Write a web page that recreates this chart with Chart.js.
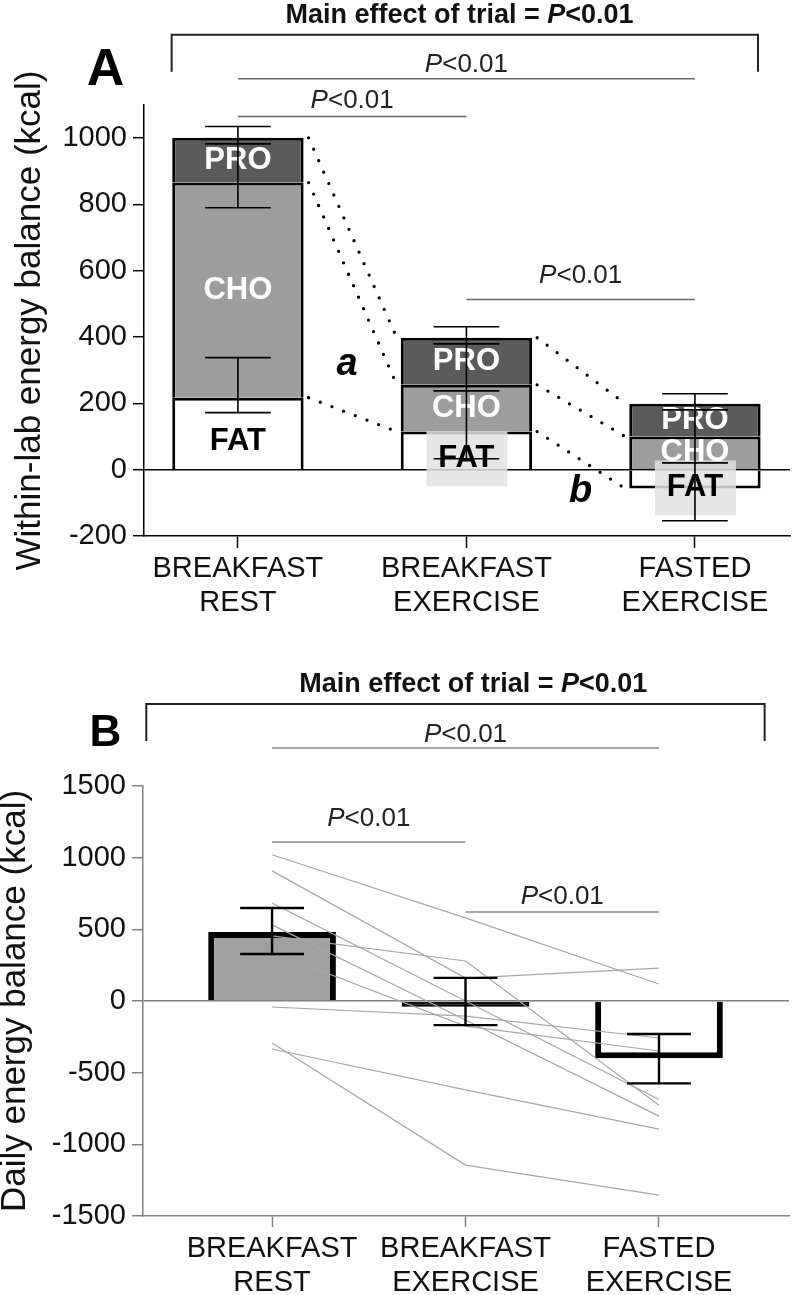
<!DOCTYPE html>
<html>
<head>
<meta charset="utf-8">
<title>Within-lab and daily energy balance</title>
<script src="https://cdn.jsdelivr.net/npm/chart.js@4.4.1/dist/chart.umd.min.js"></script>
<style>
  html, body { margin: 0; padding: 0; background: #fff; }
  #wrap { position: relative; width: 794px; height: 1295px; }
  canvas { position: absolute; left: 0; }
  #chartA { top: 0; }
  #chartB { top: 640px; }
</style>
</head>
<body>
<div id="wrap">
  <canvas id="chartA" width="794" height="640"></canvas>
  <canvas id="chartB" width="794" height="655"></canvas>
</div>
<script>
var FONT = '"Liberation Sans", Arial, Helvetica, sans-serif';
Chart.defaults.font.family = FONT;
Chart.defaults.color = '#111';

var trials = [['BREAKFAST', 'REST'], ['BREAKFAST', 'EXERCISE'], ['FASTED', 'EXERCISE']];

// panel A - within-lab energy balance by macronutrient (kcal)
var fatKcal = [217, 115, -57];
var choKcal = [649, 141, 100];
var proKcal = [135, 142, 99];
// whiskers as [low, high] on the cumulative stack
var proErr = [[983, 1035], [380, 431], [181, 229]];
var choErr = [[790, 983], [238, 380], [21, 181]];
var fatErr = [[172, 338], [33, 238], [-154, 21]];
var ticksA = [-200, 0, 200, 400, 600, 800, 1000];

// panel B - daily energy balance (kcal)
var dailyMean = [482, -40, -400];
var dailyErr = [[328, 649], [-168, 161], [-575, -230]];
var participants = [
  [1020, 580, 119],
  [908, 160, 230],
  [684, 0, -687],
  [531, -133, -803],
  [454, 279, -728],
  [340, -175, -349],
  [-42, -105, -258],
  [-293, -1145, -1355],
  [-335, -620, -894]
];
var ticksB = [-1500, -1000, -500, 0, 500, 1000, 1500];

// pairwise comparisons: trial indexes, line value, text baseline value
var compA = [
  {from: 0, to: 2, y: 1179, ty: 1200},
  {from: 0, to: 1, y: 1065, ty: 1092},
  {from: 1, to: 2, y: 513, ty: 564}
];
var compB = [
  {from: 0, to: 2, y: 1765, ty: 1807},
  {from: 0, to: 1, y: 1109, ty: 1221},
  {from: 1, to: 2, y: 621, ty: 677}
];

function pts(vals) {
  return vals.map(function(v, i) { return {x: i, y: v}; });
}

function fontOf(p, size) {
  return (p.i ? 'italic ' : '') + (p.b ? 'bold ' : '') + size + 'px ' + FONT;
}

function richText(ctx, parts, cx, y, size) {
  var widths = parts.map(function(p) {
    ctx.font = fontOf(p, size);
    return ctx.measureText(p.t).width;
  });
  var total = widths.reduce(function(a, b) { return a + b; }, 0);
  var x = cx - total / 2;
  ctx.textAlign = 'left';
  ctx.textBaseline = 'alphabetic';
  parts.forEach(function(p, i) {
    ctx.font = fontOf(p, size);
    ctx.fillText(p.t, x, y);
    x += widths[i];
  });
}

function drawErrors(chart, list, lw) {
  var ctx = chart.ctx, xs = chart.scales.x, ys = chart.scales.y;
  var bars = chart.getDatasetMeta(0).data;
  ctx.save();
  ctx.strokeStyle = '#000';
  ctx.lineWidth = lw;
  list.forEach(function(e, i) {
    var x = xs.getPixelForValue(i);
    var cap = bars[i].width / 4;
    var lo = ys.getPixelForValue(e[0]), hi = ys.getPixelForValue(e[1]);
    ctx.beginPath();
    ctx.moveTo(x, lo); ctx.lineTo(x, hi);
    ctx.moveTo(x - cap, lo); ctx.lineTo(x + cap, lo);
    ctx.moveTo(x - cap, hi); ctx.lineTo(x + cap, hi);
    ctx.stroke();
  });
  ctx.restore();
}

// titles, brackets, P values, panel letters
var annotate = {
  id: 'annotate',
  afterDraw: function(chart, args, opts) {
    var ctx = chart.ctx, xs = chart.scales.x, ys = chart.scales.y;
    var px = function(v) { return xs.getPixelForValue(v); };
    var py = function(v) { return ys.getPixelForValue(v); };
    ctx.save();
    ctx.fillStyle = '#111';

    var t = opts.title;
    richText(ctx, [{t: 'Main effect of trial = ', b: true}, {t: 'P', b: true, i: true}, {t: '<0.01', b: true}],
      px(t.x), py(t.y), 27);

    var b = opts.bracket;
    ctx.strokeStyle = '#222';
    ctx.lineWidth = 2;
    ctx.beginPath();
    ctx.moveTo(px(b.x0), py(b.leg));
    ctx.lineTo(px(b.x0), py(b.top));
    ctx.lineTo(px(b.x1), py(b.top));
    ctx.lineTo(px(b.x1), py(b.leg));
    ctx.stroke();

    ctx.strokeStyle = opts.compColor;
    ctx.lineWidth = 1.5;
    opts.comps.forEach(function(c) {
      var x0 = px(c.from), x1 = px(c.to);
      ctx.beginPath();
      ctx.moveTo(x0, py(c.y));
      ctx.lineTo(x1, py(c.y));
      ctx.stroke();
      ctx.fillStyle = '#222';
      richText(ctx, [{t: 'P', i: true}, {t: '<0.01'}], (x0 + x1) / 2, py(c.ty), 26);
    });

    var L = opts.letter;
    ctx.fillStyle = '#000';
    ctx.font = 'bold ' + L.size + 'px ' + FONT;
    ctx.textAlign = 'center';
    ctx.textBaseline = 'alphabetic';
    ctx.fillText(L.t, px(L.x), py(L.y));

    (opts.marks || []).forEach(function(m) {
      ctx.font = 'italic bold 38px ' + FONT;
      ctx.fillText(m.t, px(m.x), py(m.y));
    });
    ctx.restore();
  }
};

// segment names, dotted links between stacks and whiskers for panel A
var stackExtras = {
  id: 'stackExtras',
  afterDatasetsDraw: function(chart) {
    var ctx = chart.ctx;
    ctx.save();
    ctx.strokeStyle = '#000';
    ctx.lineWidth = 3.3;
    ctx.lineCap = 'round';
    ctx.setLineDash([0, 12.5]);
    chart.data.datasets.forEach(function(ds, d) {
      var bars = chart.getDatasetMeta(d).data;
      for (var i = 0; i < bars.length - 1; i++) {
        var a = bars[i], n = bars[i + 1];
        ctx.beginPath();
        ctx.moveTo(a.x + a.width / 2 + 5, a.y);
        ctx.lineTo(n.x - n.width / 2 - 4, n.y);
        ctx.stroke();
      }
    });
    ctx.setLineDash([]);

    ctx.font = 'bold 31px ' + FONT;
    ctx.textAlign = 'center';
    ctx.textBaseline = 'middle';
    chart.data.datasets.forEach(function(ds, d) {
      var isFat = ds.label === 'FAT';
      chart.getDatasetMeta(d).data.forEach(function(bar) {
        var h = Math.abs(bar.base - bar.y);
        var cy = (bar.base + bar.y) / 2 + (isFat ? 8 : 0);
        if (isFat && h < 50) {
          ctx.fillStyle = 'rgba(226,226,226,0.85)';
          ctx.fillRect(bar.x - 40, cy - 27, 81, 55);
        }
        ctx.fillStyle = isFat ? '#000' : '#fff';
        ctx.fillText(ds.label, bar.x, cy);
      });
    });
    ctx.restore();

    drawErrors(chart, proErr, 1.6);
    drawErrors(chart, choErr, 1.6);
    drawErrors(chart, fatErr, 1.6);
  }
};

var dailyExtras = {
  id: 'dailyExtras',
  afterDatasetsDraw: function(chart) {
    drawErrors(chart, dailyErr, 2.4);
  }
};

function xScale(min, max, color, tickLen, pad, height) {
  return {
    type: 'linear', min: min, max: max, offset: false,
    afterBuildTicks: function(s) { s.ticks = trials.map(function(t, i) { return {value: i}; }); },
    afterFit: function(s) { s.height = height; },
    ticks: {
      autoSkip: false, padding: pad, color: '#111',
      font: {size: 29, lineHeight: 1.17},
      callback: function(v) { return trials[v]; }
    },
    grid: {offset: false, drawOnChartArea: false, tickLength: tickLen, tickColor: color, tickWidth: 1.5},
    border: {color: color, width: 1.5}
  };
}

function yScale(min, max, ticks, color, width, title, titleLine, titlePad) {
  return {
    type: 'linear', min: min, max: max,
    afterBuildTicks: function(s) { s.ticks = ticks.map(function(v) { return {value: v}; }); },
    afterFit: function(s) { s.width = width; },
    ticks: {padding: 6, color: '#111', font: {size: 29}, callback: function(v) { return String(v); }},
    grid: {
      tickLength: 11, tickColor: color, tickWidth: 1.5, lineWidth: 1.4,
      color: function(c) { return c.tick && c.tick.value === 0 ? color : 'rgba(0,0,0,0)'; }
    },
    border: {color: color, width: 1.5},
    title: {
      display: true, text: title, color: '#111',
      font: {size: 35, lineHeight: titleLine}, padding: {top: titlePad, bottom: 0}
    }
  };
}

new Chart(document.getElementById('chartA'), {
  type: 'bar',
  data: {
    datasets: [
      {label: 'FAT', data: pts(fatKcal), backgroundColor: '#ffffff'},
      {label: 'CHO', data: pts(choKcal), backgroundColor: '#9d9d9d'},
      {label: 'PRO', data: pts(proKcal), backgroundColor: '#5b5b5b'}
    ]
  },
  options: {
    responsive: false,
    animation: false,
    devicePixelRatio: 1,
    layout: {padding: {top: 105, right: 4, left: 0, bottom: 0}},
    datasets: {bar: {borderColor: '#000', borderWidth: 3, barPercentage: 0.575, categoryPercentage: 1}},
    scales: {
      x: Object.assign(xScale(-0.411, 2.416, '#000', 12, 4, 104), {stacked: true}),
      y: Object.assign(yScale(-200, 1100, ticksA, '#000', 144, 'Within-lab energy balance (kcal)', 1.2, 9), {stacked: true})
    },
    plugins: {
      legend: {display: false},
      tooltip: {enabled: false},
      annotate: {
        title: {x: 0.97, y: 1348},
        bracket: {x0: -0.29, x1: 2.276, top: 1312, leg: 1200},
        compColor: '#666',
        comps: compA,
        letter: {t: 'A', x: -0.579, y: 1161, size: 52},
        marks: [{t: 'a', x: 0.478, y: 287}, {t: 'b', x: 1.5, y: -97}]
      }
    }
  },
  plugins: [stackExtras, annotate]
});

var lineSets = participants.map(function(p) {
  return {
    type: 'line', data: pts(p), borderColor: '#a6a6a6', borderWidth: 1.2,
    pointRadius: 0, tension: 0, fill: false, order: 1
  };
});

new Chart(document.getElementById('chartB'), {
  type: 'bar',
  data: {
    datasets: [{
      type: 'bar', label: 'Daily', data: pts(dailyMean), order: 2,
      backgroundColor: ['#a0a0a0', '#111111', '#ffffff'],
      borderColor: '#000', borderWidth: 6, barPercentage: 0.66, categoryPercentage: 1
    }].concat(lineSets)
  },
  options: {
    responsive: false,
    animation: false,
    devicePixelRatio: 1,
    layout: {padding: {top: 146, right: 5, left: 0, bottom: 0}},
    scales: {
      x: xScale(-0.667, 2.672, '#808080', 11, 5, 79),
      y: yScale(-1500, 1500, ticksB, '#808080', 143, 'Daily energy balance (kcal)', 0.9, 0)
    },
    plugins: {
      legend: {display: false},
      tooltip: {enabled: false},
      annotate: {
        title: {x: 1.04, y: 2156},
        bracket: {x0: -0.65, x1: 2.546, top: 2072, leg: 1814},
        compColor: '#888',
        comps: compB,
        letter: {t: 'B', x: -0.861, y: 1779, size: 44}
      }
    }
  },
  plugins: [dailyExtras, annotate]
});
</script>
</body>
</html>
